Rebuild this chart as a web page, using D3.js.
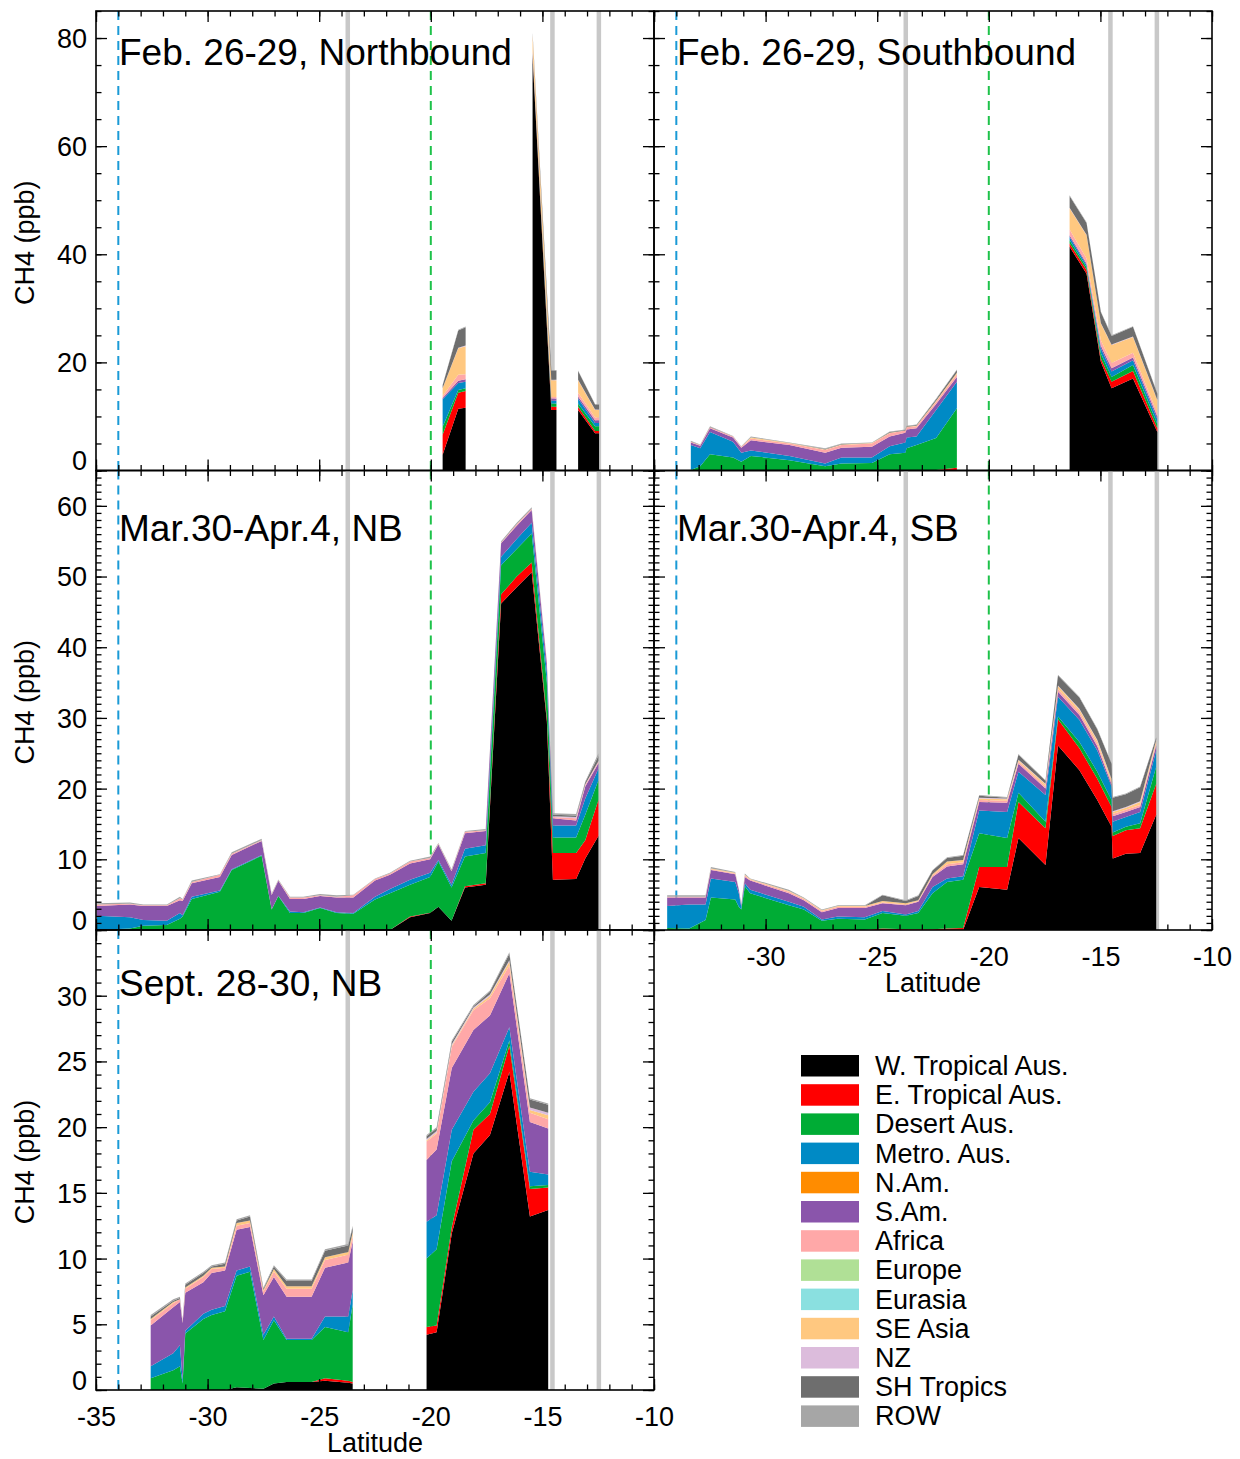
<!DOCTYPE html>
<html><head><meta charset="utf-8">
<script src="https://cdn.jsdelivr.net/npm/d3@7"></script>
<style>
body{margin:0;background:#fff}
svg{display:block}
text{font-family:"Liberation Sans",Arial,Helvetica,sans-serif;fill:#000}
</style>
</head><body>
<svg id="chart" width="1240" height="1459"></svg>
<script>
// ---------------- DATA ----------------
const categories = ["W. Tropical Aus.","E. Tropical Aus.","Desert Aus.","Metro. Aus.","N.Am.","S.Am.","Africa","Europe","Eurasia","SE Asia","NZ","SH Tropics","ROW"];
const colors = ["#000000","#ff0000","#00ac35","#008ac5","#ff8c00","#8a55ab","#ffa8a8","#b0e096","#8ae0e0","#ffc880","#dcbcdc","#6e6e6e","#a6a6a6"];
const xMajorTicks = [-35,-30,-25,-20,-15,-10];
const grayLines = [-23.72,-14.55,-12.47];
const blueDashLat = -34.0;
const greenDashLat = -20.0;
// rows: [lat, W.Trop, E.Trop, Desert, Metro, N.Am, S.Am, Africa, Europe, Eurasia, SE Asia, NZ, SH Trop, ROW]; null = gap
const febNB = [
 [-19.47, 2.9,3.7,1.5,5.1,0,0.2,0.4,0,0,1.4,0.05,0.5,0.1],
 [-18.77,11.4,3.0,0.5,1.3,0,0.4,1.1,0,0,4.9,0.1,3.2,0.15],
 [-18.44,11.6,3.1,0.5,1.2,0,0.5,0.9,0,0,5.2,0.1,3.4,0.15],
 null,
 [-15.44,76.5,0.3,0.2,0.2,0,0.2,0.3,0,0,2.8,0.1,0.3,0.1],
 [-14.6,11.2,0.6,0.6,0.5,0,0.4,0.3,0,0,3.1,0.1,1.7,0.1],
 [-14.37,11.2,0.6,0.6,0.5,0,0.4,0.3,0,0,3.1,0.1,1.7,0.1],
 null,
 [-13.4,11.2,0.6,0.6,0.9,0,0.4,0.7,0,0,2.3,0.1,1.6,0.1],
 [-12.64,6.9,0.4,0.9,0.6,0,0.5,0.5,0,0,1.4,0.1,0.9,0.1],
 [-12.46,6.9,0.4,0.9,0.6,0,0.5,0.5,0,0,1.4,0.1,0.9,0.1]
];
const febSB = [
 [-33.35,0,0,0.1,4.6,0,0.5,0.1,0,0,0,0,0.1,0.1],
 [-32.93,0,0,0.8,3.3,0,0.5,0.1,0,0,0,0,0,0.1],
 [-32.49,0,0,3.0,4.1,0,0.7,0.2,0,0,0,0,0.1,0.1],
 [-31.46,0,0,2.4,2.9,0,0.8,0.2,0,0,0,0,0,0.1],
 [-31.09,0,0,1.6,1.7,0,0.9,0.2,0,0,0,0,0,0.1],
 [-30.66,0,0,2.7,1.0,0,1.9,0.3,0,0,0.2,0,0,0.2],
 [-28.93,0,0,1.9,0.8,0,2.0,0.3,0,0,0.1,0,0,0.1],
 [-27.33,0,0,0.8,0.5,0,2.0,0.5,0,0,0.1,0,0.1,0.1],
 [-26.6,0,0,1.3,1.1,0,1.8,0.5,0,0,0.1,0,0.1,0.1],
 [-25.24,0,0,1.4,1.0,0,2.0,0.6,0,0,0.1,0,0,0.1],
 [-24.44,0,0,3.0,1.5,0,1.8,0.6,0,0,0.1,0,0.1,0.1],
 [-23.74,0,0,3.3,1.9,0,1.8,0.4,0,0,0,0,0.1,0.1],
 [-23.68,0,0,4.1,2.0,0,1.5,0.4,0,0,0.1,0,0.1,0.1],
 [-23.24,0,0,4.7,1.6,0,1.5,0.4,0,0,0.1,0,0.1,0.1],
 [-22.36,0,0.1,5.9,5.2,0,1.1,0.4,0,0,0.2,0,0.3,0.1],
 [-21.43,0,0.5,11.0,4.9,0,0.9,0.5,0,0,0.3,0,0.5,0.1],
 null,
 [-16.38,41.4,0.6,0.6,0.6,0,0.3,1.1,0,0,3.9,0.1,2.2,0.1],
 [-15.62,36.4,0.7,0.5,0.4,0,0.3,0.9,0,0,4.3,0.1,2.2,0.1],
 [-14.98,20.1,0.6,1.0,0.9,0,0.5,1.0,0,0,3.1,0.1,2.0,0.1],
 [-14.5,15.2,1.2,0.9,1.0,0,0.6,1.0,0,0,3.3,0.1,1.6,0.1],
 [-13.54,17.0,1.4,1.1,0.9,0,0.5,0.9,0,0,2.9,0.1,1.8,0.1],
 [-12.45,7.1,0.7,0.8,0.9,0,0.5,0.6,0,0,2.4,0.1,1.1,0.1]
];
const marNB = [
 [-34.97,0,0,0,2.0,0,1.4,0.2,0,0,0,0,0,0.2],
 [-33.48,0,0,0.2,1.6,0,1.8,0.1,0,0,0,0,0,0.2],
 [-32.88,0,0,0.6,0.8,0,2.0,0.1,0,0,0,0,0,0.1],
 [-31.83,0,0,0.7,0.6,0,2.1,0.1,0,0,0,0,0,0.1],
 [-31.24,0,0,1.6,0.8,0,1.8,0.3,0,0,0,0,0,0.2],
 [-31.12,0,0,1.9,0.2,0,2.0,0.2,0,0,0,0,0,0.1],
 [-30.71,0,0,4.4,0.3,0,1.9,0.2,0,0,0,0,0,0.2],
 [-29.45,0,0,5.4,0.2,0,1.9,0.3,0,0,0,0,0,0.1],
 [-28.92,0,0,8.5,0.1,0,2.0,0.2,0,0,0,0,0,0.2],
 [-27.58,0,0,10.5,0.1,0,2.0,0.1,0,0,0,0,0,0.2],
 [-27.13,0,0,2.9,0.05,0,2.0,0.1,0,0,0,0,0,0.1],
 [-26.83,0,0,4.8,0.05,0,2.1,0.1,0,0,0,0,0,0.1],
 [-26.31,0,0,2.4,0.2,0,1.8,0.2,0,0,0,0,0,0.1],
 [-25.71,0,0,2.4,0.1,0,1.9,0.2,0,0,0,0,0,0.1],
 [-24.96,0,0,3.1,0.1,0,1.6,0.1,0,0,0,0,0,0.2],
 [-24.22,0,0,2.4,0.1,0,2.1,0.1,0,0,0,0,0,0.2],
 [-23.47,0,0,2.3,0.1,0,2.2,0.3,0,0,0,0,0,0.1],
 [-22.5,0,0,4.3,0.4,0,2.3,0.2,0,0,0,0,0,0.1],
 [-21.83,0,0,5.2,0.6,0,2.0,0.2,0,0,0,0,0,0.1],
 [-20.93,1.8,0.1,4.5,0.7,0,2.3,0.3,0,0,0,0,0,0.1],
 [-20.03,2.4,0.05,5.05,0.6,0,1.9,0.2,0,0,0,0,0,0.2],
 [-19.66,3.3,0,6.4,0.2,0,2.2,0.1,0,0,0,0,0,0.1],
 [-19.07,1.3,0,4.7,0.4,0,1.9,0.1,0,0,0,0,0,0.2],
 [-18.47,6.0,0.2,4.2,1.1,0,2.2,0.2,0,0,0,0,0,0.1],
 [-17.54,6.4,0.2,4.3,1.1,0,2.0,0.1,0,0,0,0,0,0.2],
 [-16.85,46.2,1.3,4.1,1.2,0,1.9,0.1,0,0,0,0,0,0.2],
 [-16.15,48.5,1.5,3.9,1.4,0,1.9,0.2,0,0,0,0,0,0.2],
 [-15.48,50.6,1.4,4.1,1.5,0,1.8,0.2,0,0,0,0,0,0.2],
 [-14.8,29.5,0.5,5.0,1.5,0,1.2,0.2,0,0,0,0,0,0.1],
 [-14.53,7.1,3.8,2.2,1.7,0,1.0,0.2,0,0,0,0.1,0.2,0.2],
 [-13.49,7.2,3.7,2.2,1.7,0,0.7,0.3,0,0,0,0.2,0.2,0.2],
 [-13.08,10.1,2.6,3.6,2.3,0,1.7,0.2,0,0,0,0.1,0.3,0.1],
 [-12.49,13.3,5.1,2.8,1.6,0,0.8,0.2,0,0,0,0.1,0.7,0.4]
];
const marSB = [
 [-34.41,0,0,0.3,3.1,0,1.2,0.1,0,0,0,0,0,0.2],
 [-33.42,0,0,0.2,3.4,0,1.0,0.1,0,0,0,0,0,0.2],
 [-32.69,0,0,1.4,2.2,0,1.0,0.1,0,0,0,0,0,0.2],
 [-32.45,0,0,4.6,2.7,0,1.2,0.1,0,0,0.1,0,0,0.2],
 [-31.36,0,0,4.3,2.5,0,1.1,0.1,0,0,0.1,0,0,0.1],
 [-31.2,0,0,3.3,1.9,0,0.5,0,0,0,0,0,0,0.1],
 [-31.09,0,0,2.9,0.4,0,0.2,0,0,0,0,0,0,0.1],
 [-30.93,0,0,6.2,0.4,0,0.9,0.2,0,0,0.1,0,0,0.2],
 [-30.69,0,0,5.2,0.5,0,1.3,0.1,0,0,0.1,0,0,0.1],
 [-28.96,0,0,3.5,0.5,0,1.2,0.2,0,0,0.1,0,0,0.2],
 [-28.29,0,0,2.9,0.4,0,0.9,0.2,0,0,0.1,0,0,0.1],
 [-27.48,0,0,1.3,0.2,0,1.0,0.2,0,0,0.1,0,0,0.1],
 [-26.76,0,0,1.6,0.3,0,1.2,0.2,0,0,0.1,0,0,0.1],
 [-25.56,0,0,1.5,0.3,0,1.3,0.2,0,0,0.1,0,0,0.1],
 [-24.76,0,0.2,2.2,0.3,0,1.1,0.1,0,0,0.2,0,0.8,0.1],
 [-23.72,0,0.1,1.9,0.2,0,1.3,0.1,0,0,0.2,0,0.3,0.1],
 [-23.16,0,0.1,2.3,0.3,0,1.3,0.1,0,0,0.1,0,0.6,0.1],
 [-22.52,0,0.1,5.1,0.9,0,1.4,0.2,0,0,0.2,0,0.5,0.1],
 [-21.87,0,0.2,6.6,0.5,0,1.7,0.3,0,0,0.4,0,0.5,0.1],
 [-21.15,0,0.3,6.8,0.5,0,1.7,0.3,0,0,0.3,0,0.6,0.1],
 [-20.43,6.1,2.8,4.8,3.2,0,1.2,0.3,0,0,0.2,0.1,0.3,0.1],
 [-19.18,5.7,3.2,4.1,3.7,0,1.3,0.3,0,0,0.2,0.1,0.1,0.1],
 [-18.67,13.0,5.1,1.3,3.0,0,1.1,0.3,0,0,0.2,0.1,0.7,0.1],
 [-17.46,9.2,5.2,0.9,3.8,0,0.9,0.3,0,0,0.3,0.1,0.4,0.1],
 [-16.9,26.1,3.7,0.4,2.8,0,0.7,0.4,0,0,0.4,0.1,1.4,0.1],
 [-15.94,22.6,3.1,0.9,3.1,0,0.7,0.4,0,0,0.4,0.1,1.6,0.1],
 [-15.14,18.4,3.0,1.0,3.0,0,0.6,0.4,0,0,0.4,0.1,1.5,0.1],
 [-14.5,14.6,2.8,1.0,1.9,0,0.3,0.3,0,0,0.4,0.1,2.1,0.1],
 [-14.45,10.1,3.2,0.5,1.5,0,0.8,0.3,0,0,0.3,0.1,1.9,0.1],
 [-13.86,10.8,3.3,0.5,1.4,0,0.7,0.3,0,0,0.3,0.1,1.8,0.1],
 [-13.22,10.9,3.5,0.7,1.6,0,0.7,0.3,0,0,0.4,0.1,2.0,0.1],
 [-12.5,16.3,4.4,2.4,2.3,0,0.7,0.3,0,0,0.4,0.1,0.3,0.1]
];
const sepNB = [
 [-32.55,0,0,0.9,0.9,0,3.1,0.4,0,0,0.1,0,0.2,0.1],
 [-31.54,0,0,1.5,1.3,0,3.5,0.3,0,0,0.1,0,0.1,0.1],
 [-31.24,0,0,1.8,1.6,0,3.3,0.2,0,0,0,0,0.1,0.1],
 [-31.12,0,0,0.5,0.3,0,4.3,0.1,0,0,0,0,0,0.1],
 [-31.0,0,0,4.3,0.2,0,2.9,0.3,0,0,0.1,0,0.2,0.1],
 [-30.19,0,0,5.4,0.4,0,2.4,0.4,0,0,0.1,0,0.2,0.1],
 [-29.82,0,0,5.7,0.4,0,2.8,0.3,0,0,0.1,0,0.1,0.1],
 [-29.22,0,0,6.0,0.4,0,2.7,0.2,0,0,0.1,0,0.2,0.1],
 [-28.7,0.2,0,8.5,0.4,0,3.1,0.3,0,0,0.2,0,0.2,0.1],
 [-28.1,0.15,0,8.85,0.4,0,3.0,0.3,0,0,0.2,0,0.3,0.1],
 [-27.5,0.1,0,3.7,0.4,0,3.0,0.3,0,0,0.1,0,0.1,0.1],
 [-27.03,0.5,0,4.8,0.3,0,3.0,0.4,0,0,0.2,0,0.2,0.1],
 [-26.46,0.6,0,3.2,0.1,0,3.2,0.6,0,0,0.2,0,0.4,0.1],
 [-25.34,0.6,0,3.2,0.1,0,3.2,0.6,0,0,0.2,0,0.4,0.1],
 [-24.74,0.7,0.2,3.9,0.8,0,3.7,0.6,0,0,0.2,0,0.5,0.1],
 [-23.7,0.56,0.14,3.7,1.2,0,4.1,0.6,0,0,0.2,0,0.5,0.1],
 [-23.5,0.5,0.1,5.9,1.1,0,3.7,0.4,0,0,0.3,0,0.4,0.1],
 null,
 [-20.19,4.2,0.6,5.2,2.8,0,4.7,1.4,0,0,0.1,0.1,0.2,0.1],
 [-19.74,4.4,0.5,5.8,2.6,0,5.0,1.2,0,0,0.1,0.1,0.2,0.1],
 [-19.06,11.9,0.5,5.0,2.4,0,4.7,1.6,0,0,0.1,0.1,0.2,0.1],
 [-18.09,18.0,1.8,0.7,2.2,0,4.7,1.5,0,0,0.1,0.1,0.1,0.1],
 [-17.35,19.4,1.6,0.9,2.2,0,4.4,1.3,0,0,0.2,0.1,0.2,0.1],
 [-16.48,24.2,2.0,0.4,1.0,0,4.1,0.6,0,0,0.3,0.1,0.5,0.1],
 [-15.56,13.2,2.1,0.2,1.1,0,3.8,0.7,0,0,0.2,0.2,0.6,0.1],
 [-14.74,13.7,1.7,0.2,0.8,0,3.5,0.7,0,0,0.3,0.2,0.6,0.1]
];
const panelTitles = ["Feb. 26-29, Northbound","Feb. 26-29, Southbound","Mar.30-Apr.4, NB","Mar.30-Apr.4, SB","Sept. 28-30, NB"];

// ---------------- LAYOUT ----------------
const W = 558;
const panels = [
 {rows:febNB, title:panelTitles[0], left:96,  top:11,    bottom:470.5, yMax:85, major:20, minor:5, titleV:75, yLab:true,  xLab:false},
 {rows:febSB, title:panelTitles[1], left:654, top:11,    bottom:470.5, yMax:85, major:20, minor:5, titleV:75, yLab:false, xLab:false},
 {rows:marNB, title:panelTitles[2], left:96,  top:470.5, bottom:930,   yMax:65, major:10, minor:1, titleV:55, yLab:true,  xLab:false},
 {rows:marSB, title:panelTitles[3], left:654, top:470.5, bottom:930,   yMax:65, major:10, minor:1, titleV:55, yLab:false, xLab:true, skipFirstX:true},
 {rows:sepNB, title:panelTitles[4], left:96,  top:930,   bottom:1390,  yMax:35, major:5,  minor:1, titleV:30, yLab:true,  xLab:true}
];

const svg = d3.select("#chart");
const stack = d3.stack().keys(d3.range(categories.length)).value((r,k)=>r[k+1]);

panels.forEach(p => {
  const x = d3.scaleLinear().domain([-35,-10]).range([p.left, p.left+W]);
  const y = d3.scaleLinear().domain([0,p.yMax]).range([p.bottom, p.top]);
  const g = svg.append("g");

  // reference lines (under the areas)
  g.selectAll(null).data(grayLines).join("line")
    .attr("x1",d=>x(d)).attr("x2",d=>x(d)).attr("y1",p.top).attr("y2",p.bottom)
    .attr("stroke","#c8c8c8").attr("stroke-width",4.5);
  g.append("line").attr("x1",x(blueDashLat)).attr("x2",x(blueDashLat)).attr("y1",p.top).attr("y2",p.bottom)
    .attr("stroke","#1a9ad6").attr("stroke-width",2).attr("stroke-dasharray","9,6");
  g.append("line").attr("x1",x(greenDashLat)).attr("x2",x(greenDashLat)).attr("y1",p.top).attr("y2",p.bottom)
    .attr("stroke","#1ec24a").attr("stroke-width",2).attr("stroke-dasharray","9,6");

  // split rows into contiguous segments
  const segs = []; let cur = [];
  p.rows.forEach(r => { if (r === null) { if (cur.length) segs.push(cur); cur = []; } else cur.push(r); });
  if (cur.length) segs.push(cur);
  const area = d3.area().x(d=>x(d.data[0])).y0(d=>y(d[0])).y1(d=>y(d[1]));
  segs.forEach(seg => {
    g.append("g").selectAll("path").data(stack(seg)).join("path")
      .attr("d", area).attr("fill",(d,i)=>colors[i]);
  });

  // ticks on four sides (inward)
  const xMinor = d3.range(-35,-9.99,1);
  const yMajor = d3.range(0,p.yMax+0.001,p.major);
  const yMinor = d3.range(0,p.yMax+0.001,p.minor);
  const mk = (axis, vals, len, tr) => {
    const a = g.append("g").attr("transform",tr)
      .call(axis.tickValues(vals).tickSize(-len).tickFormat(""));
    a.select(".domain").remove();
    a.selectAll("line").attr("stroke","#000").attr("stroke-width",1.3);
  };
  mk(d3.axisBottom(x), xMinor, 5.5, `translate(0,${p.bottom})`);
  mk(d3.axisBottom(x), xMajorTicks, 11, `translate(0,${p.bottom})`);
  mk(d3.axisTop(x), xMinor, 5.5, `translate(0,${p.top})`);
  mk(d3.axisTop(x), xMajorTicks, 11, `translate(0,${p.top})`);
  mk(d3.axisLeft(y), yMinor, 5.5, `translate(${p.left},0)`);
  mk(d3.axisLeft(y), yMajor, 11, `translate(${p.left},0)`);
  mk(d3.axisRight(y), yMinor, 5.5, `translate(${p.left+W},0)`);
  mk(d3.axisRight(y), yMajor, 11, `translate(${p.left+W},0)`);

  // frame
  g.append("rect").attr("x",p.left).attr("y",p.top).attr("width",W).attr("height",p.bottom-p.top)
    .attr("fill","none").attr("stroke","#000").attr("stroke-width",1.6);

  // y labels (the top value at the frame edge is not labelled)
  if (p.yLab) {
    const labVals = yMajor.filter(v => v < p.yMax - 1e-6);
    const ya = g.append("g").attr("transform",`translate(${p.left},0)`)
      .call(d3.axisLeft(y).tickValues(labVals).tickSize(0).tickPadding(9).tickFormat(d=>String(d)));
    ya.select(".domain").remove();
    ya.selectAll("text").attr("font-size",27).attr("font-family",null)
      .attr("dy", d => d === 0 ? "-0.02em" : "0.35em");
    g.append("text").attr("transform",`translate(${p.left-62},${(p.top+p.bottom)/2+2}) rotate(-90)`)
      .attr("text-anchor","middle").attr("font-size",27).text("CH4 (ppb)");
  }
  // x labels
  if (p.xLab) {
    const vals = p.skipFirstX ? xMajorTicks.slice(1) : xMajorTicks;
    const xa = g.append("g").attr("transform",`translate(0,${p.bottom})`)
      .call(d3.axisBottom(x).tickValues(vals).tickSize(0).tickPadding(17).tickFormat(d=>String(d)));
    xa.select(".domain").remove();
    xa.selectAll("text").attr("font-size",27).attr("font-family",null);
    g.append("text").attr("x",p.left+W/2).attr("y",p.bottom+62).attr("text-anchor","middle")
      .attr("font-size",27).text("Latitude");
  }
  // title
  g.append("text").attr("x",p.left+23).attr("y",y(p.titleV)).attr("font-size",37).text(p.title);
});

// legend
const leg = svg.append("g").attr("transform","translate(801,1055)");
const items = leg.selectAll("g").data(categories).join("g")
  .attr("transform",(d,i)=>`translate(0,${i*29.2})`);
items.append("rect").attr("width",58).attr("height",21.5).attr("fill",(d,i)=>colors[i]);
items.append("text").attr("x",74).attr("y",20).attr("font-size",27).text(d=>d);
</script>
</body></html>
